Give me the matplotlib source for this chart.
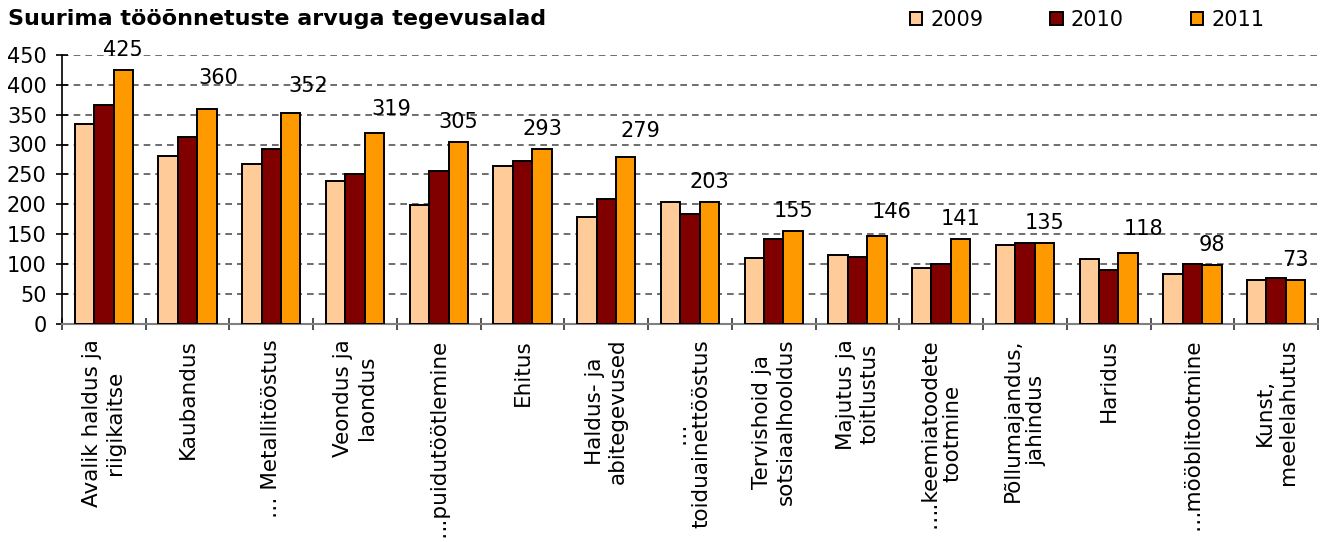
import numpy as np
import matplotlib
matplotlib.use("Agg")
import matplotlib.pyplot as plt

# andmed
categories = ["Avalik haldus ja\nriigikaitse", "Kaubandus", "… Metallitööstus",
              "Veondus ja\nlaondus", "….puidutöötlemine", "Ehitus",
              "Haldus- ja\nabitegevused", "…\ntoiduainettööstus",
              "Tervishoid ja\nsotsiaalhooldus", "Majutus ja\ntoitlustus",
              "….keemiatoodete\ntootmine", "Põllumajandus,\njahindus", "Haridus",
              "…mööblitootmine", "Kunst,\nmeelelahutus"]
y2009 = [334, 281, 268, 238, 199, 264, 179, 203, 109, 115, 93, 132, 108, 83, 73]
y2010 = [367, 312, 293, 251, 255, 273, 208, 183, 141, 112, 99, 135, 89, 100, 76]
y2011 = [425, 360, 352, 319, 305, 293, 279, 203, 155, 146, 141, 135, 118, 98, 73]
years = ["2009", "2010", "2011"]
colors = ["#FFCC99", "#800000", "#FF9900"]

# label nudges (pixels) as placed in the original
label_dx = [0, 11, 17, 17, 0, 0, 15, 0, 0, 15, 0, 0, 15, 0, 0]
label_dy = [0, 11, 7, 4, 0, 0, 6, 0, 0, 4, 0, 0, 4, 0, 0]

DPI = 100
fig = plt.figure(figsize=(13.23, 5.42), dpi=DPI)
ax = fig.add_axes([62 / 1323, 1 - 323.5 / 542, 1256 / 1323, 268.5 / 542])

x = np.arange(len(categories))
w = 0.232
for i, (vals, c, lab) in enumerate(zip([y2009, y2010, y2011], colors, years)):
    ax.bar(x + (i - 1) * w, vals, w, color=c, edgecolor="black", linewidth=1.4,
           label=lab, zorder=3)

px = 72 / DPI
for xi, v, dx, dy in zip(x, y2011, label_dx, label_dy):
    ax.annotate(str(v), (xi + w, v), xytext=(dx * px, (10 + dy) * px),
                textcoords="offset points", ha="center", va="bottom",
                fontsize=15, zorder=4)

ax.set_ylim(0, 450)
ax.set_xlim(-0.5, len(categories) - 0.5)
ax.set_yticks(np.arange(0, 451, 50))
ax.yaxis.grid(True, color="#555555", linestyle=(0, (4, 3)), linewidth=1.2, zorder=0)

ax.set_xticks(x)
ax.set_xticklabels(categories, rotation=90, va="top", ha="center",
                   multialignment="center", fontsize=15.5)
ax.tick_params(axis="x", which="major", length=0, pad=11)
ax.set_xticks(np.arange(-0.5, len(categories), 1), minor=True)
ax.tick_params(axis="x", which="minor", direction="inout", length=8, width=1.2,
               color="#333333")
ax.tick_params(axis="y", direction="inout", length=8, width=1.2, labelsize=15, pad=7)

for s in ["top", "right"]:
    ax.spines[s].set_visible(False)
ax.spines["left"].set_color("black")
ax.spines["left"].set_linewidth(1.2)
ax.spines["bottom"].set_color("#808080")
ax.spines["bottom"].set_linewidth(1.5)

fig.text(8 / 1323, 1 - 19 / 542, "Suurima tööõnnetuste arvuga tegevusalad",
         fontsize=16, fontweight="bold", va="center", ha="left")

fig.legend(loc="center", bbox_to_anchor=(1087 / 1323, 1 - 20 / 542), ncol=3,
           frameon=False, fontsize=15, handlelength=0.6, handleheight=0.6,
           handletextpad=0.4, columnspacing=3.2)

fig.savefig("out.png", dpi=DPI)
